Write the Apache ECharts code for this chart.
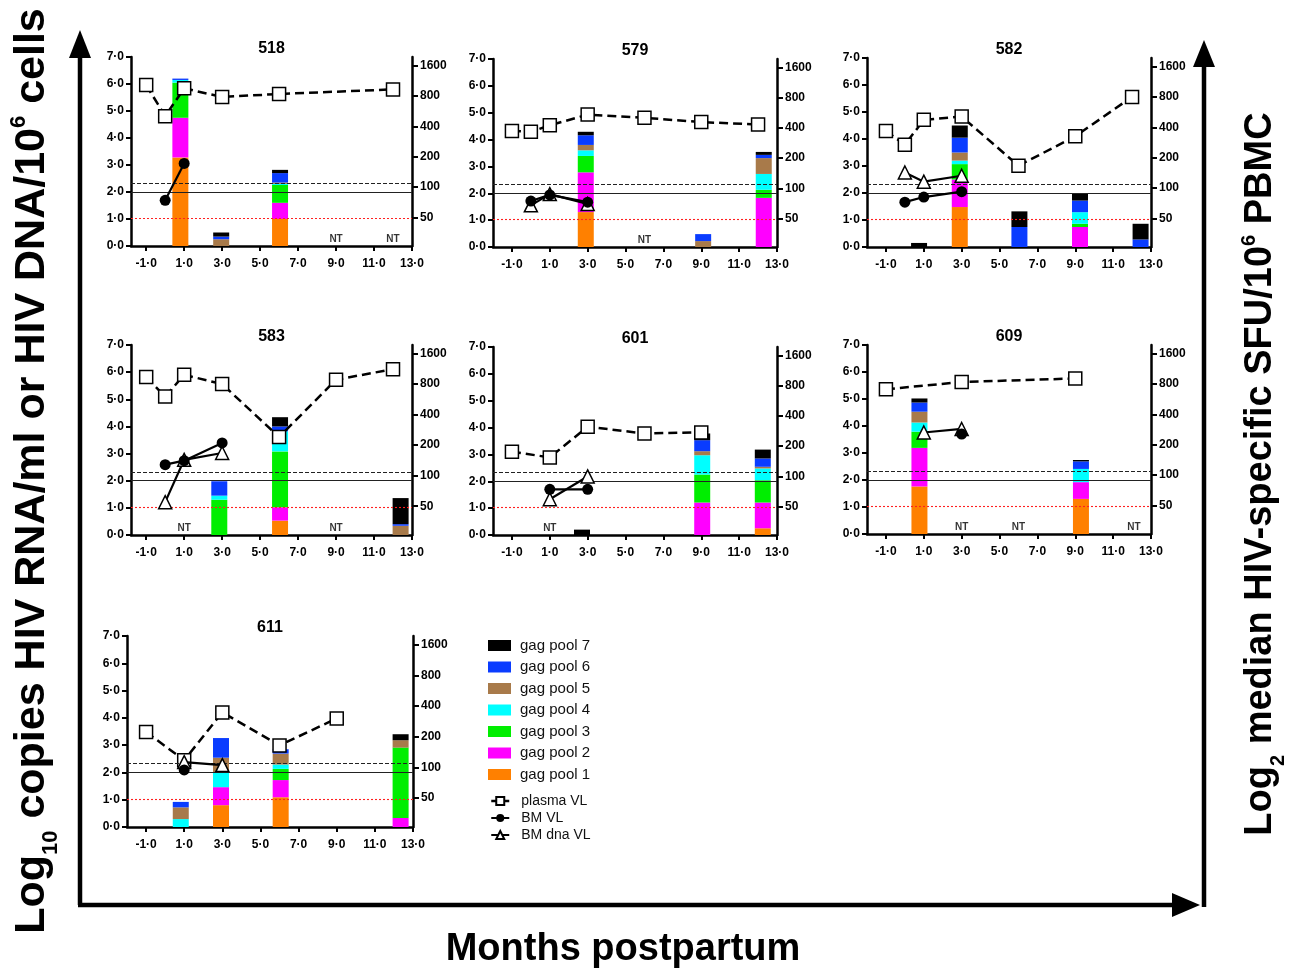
<!DOCTYPE html>
<html><head><meta charset="utf-8">
<script src="https://cdn.jsdelivr.net/npm/echarts@6/dist/echarts.min.js"></script>
<style>html,body{margin:0;padding:0;background:#fff}#c{width:1289px;height:968px}</style>
</head><body><div id="c"></div>
<script>
// ---------------- DATA ----------------
const panelIds = ['518','579','582','583','601','609','611'];
const poolNames = ['gag pool 1','gag pool 2','gag pool 3','gag pool 4','gag pool 5','gag pool 6','gag pool 7'];
const barMonths = [
  [0.8, 2.95, 6.05],
  [2.9, 9.1, 12.3],
  [0.75, 2.9, 6.05, 9.25, 12.45],
  [2.85, 6.05, 12.4],
  [2.7, 9.05, 12.25],
  [0.77, 9.3],
  [0.82, 2.93, 6.06, 12.35]
];
const gagPool1 = [[3.28,0,1.0],[1.30,0,0],[0,1.48,0,0,0],[0,0.53,0],[0,0,0.25],[1.76,1.3],[0,0.8,1.09,0]];
const gagPool2 = [[1.47,0,0.6],[1.48,0,1.83],[0,1.02,0,0.74,0],[0,0.49,0],[0,1.21,0.96],[1.43,0.62],[0,0.66,0.63,0.33]];
const gagPool3 = [[1.30,0,0.66],[0.61,0,0.3],[0,0.57,0,0.12,0],[1.3,2.06,0],[0,1.04,0.83],[0.6,0],[0,0,0.41,2.58]];
const gagPool4 = [[0.1,0,0.04],[0.21,0,0.59],[0,0.13,0,0.43,0],[0.15,0.74,0],[0,0.72,0.44],[0.34,0.49],[0.29,0.53,0.16,0]];
const gagPool5 = [[0,0.25,0.05],[0.2,0.22,0.59],[0,0.3,0,0,0],[0,0,0.34],[0,0.15,0.06],[0.4,0],[0.43,0.55,0.4,0.27]];
const gagPool6 = [[0.05,0.1,0.35],[0.36,0.26,0.12],[0,0.55,0.74,0.43,0.28],[0.53,0.18,0.06],[0,0.41,0.31],[0.34,0.28],[0.2,0.72,0.16,0]];
const gagPool7 = [[0,0.15,0.12],[0.13,0,0.11],[0.15,0.45,0.58,0.27,0.58],[0,0.34,0.96],[0.2,0.25,0.33],[0.15,0.05],[0,0,0,0.22]];
const plasmaVL = [
  [[-1,5.96],[0,4.81],[1,5.84],[3,5.52],[6,5.63],[12,5.8]],
  [[-1,4.32],[0,4.29],[1,4.53],[3,4.93],[6,4.81],[9,4.65],[12,4.56]],
  [[-1,4.3],[0,3.79],[1,4.71],[3,4.83],[6,3.01],[9,4.1],[12,5.56]],
  [[-1,5.82],[0,5.1],[1,5.9],[3,5.56],[6,3.61],[9,5.72],[12,6.11]],
  [[-1,3.1],[1,2.89],[3,4.03],[6,3.78],[9,3.82]],
  [[-1,5.36],[3,5.63],[9,5.76]],
  [[-1,3.48],[1,2.45],[3,4.2],[6,2.99],[9,3.98]]
];
const bmVL = [
  [[0,1.69],[1,3.06]],
  [[0,1.71],[1,1.94],[3,1.67]],
  [[0,1.66],[1,1.85],[3,2.05]],
  [[0,2.59],[1,2.74],[3,3.39]],
  [[1,1.7],[3,1.7]],
  [[3,3.7]],
  [[1,2.09]]
];
const bmDnaVL = [
  [],
  [[0,1.55],[1,1.97],[3,1.6]],
  [[0,2.76],[1,2.42],[3,2.64]],
  [[0,1.21],[1,2.77],[3,3.02]],
  [[1,1.33],[3,2.18]],
  [[1,3.76],[3,3.89]],
  [[1,2.38],[3,2.27]]
];
const ntMonths = [[9,12],[6],[],[1,9],[1],[3,6,12.1],[]];
const xMins = [-1.8,-2,-2,-1.8,-2,-2,-2];
const xTickValues = [-1,1,3,5,7,9,11,13];
const sfuTicks = [50,100,200,400,800,1600];
const refSolid = 2.0, refDashed = 2.33, refRed = 1.03;

// ---------------- LAYOUT / STYLE ----------------
const FONT = 'Arial, "Liberation Sans", Helvetica, sans-serif';
const poolColors = ['#ff8000','#ff00ff','#00ee00','#00ffff','#a87a4a','#0a3cff','#000000'];
const pools = [gagPool1,gagPool2,gagPool3,gagPool4,gagPool5,gagPool6,gagPool7];
const gridBoxes = [[131,57,281,189],[493,59,284,188],[867,58,284,189],[131,345,281,190],[493,347,284,188],[867,345,284,189],[127,636,286,191]];
// right axis: log2(SFU); 50 SFU sits at 1.06 on the left scale, 1.125 left-units per doubling
const R_MIN = Math.log2(50) - 1.06/1.125;
const R_MAX = R_MIN + 7/1.125;
const fmt = v => v.toFixed(1).replace('.', '\u00B7');

const option = {animation:false, backgroundColor:'#fff', grid:[], xAxis:[], yAxis:[], series:[], graphic:[]};

panelIds.forEach((id, i) => {
  const [l,t,w,h] = gridBoxes[i];
  option.grid.push({left:l, top:t, width:w, height:h, containLabel:false});
  option.xAxis.push({type:'value', gridIndex:i, min:xMins[i], max:13,
    axisLine:{show:true, onZero:false, lineStyle:{color:'#000', width:2.5}},
    axisTick:{show:true, customValues:xTickValues, length:5, lineStyle:{color:'#000', width:2}},
    axisLabel:{customValues:xTickValues, formatter:fmt, color:'#000', fontWeight:'bold', fontSize:12, margin:12, fontFamily:FONT},
    splitLine:{show:false}});
  option.yAxis.push({type:'value', gridIndex:i, min:0, max:7, interval:1, position:'left',
    axisLine:{show:true, onZero:false, lineStyle:{color:'#000', width:2.5}},
    axisTick:{show:true, length:5, lineStyle:{color:'#000', width:2}},
    axisLabel:{formatter:fmt, color:'#000', fontWeight:'bold', fontSize:12, margin:7, fontFamily:FONT},
    splitLine:{show:false}});
  option.yAxis.push({type:'value', gridIndex:i, min:R_MIN, max:R_MAX, position:'right',
    axisLine:{show:true, onZero:false, lineStyle:{color:'#000', width:2.5}},
    axisTick:{show:true, customValues:sfuTicks.map(Math.log2), length:6, lineStyle:{color:'#000', width:2}},
    axisLabel:{customValues:sfuTicks.map(Math.log2), formatter:v=>String(Math.round(Math.pow(2,v))), color:'#000', fontWeight:'bold', fontSize:12, margin:8, fontFamily:FONT},
    splitLine:{show:false}});

  pools.forEach((arr, k) => {
    // value first so that the stack is computed on the y dimension
    option.series.push({name:poolNames[k], type:'bar', xAxisIndex:i, yAxisIndex:2*i, stack:'s'+i, barWidth:16,
      itemStyle:{color:poolColors[k]}, z:2, encode:{x:1, y:0},
      data:barMonths[i].map((m,j)=>[arr[i][j], m])});
  });
  option.series.push({name:'ref'+i, type:'line', xAxisIndex:i, yAxisIndex:2*i, data:[], z:3,
    markLine:{silent:true, symbol:['none','none'], label:{show:false}, animation:false,
      data:[{yAxis:refSolid, lineStyle:{color:'#222', width:1.2, type:'solid'}},
            {yAxis:refDashed, lineStyle:{color:'#222', width:1.2, type:[4,2]}},
            {yAxis:refRed, lineStyle:{color:'#ff2020', width:1.1, type:[2,2]}}]}});
  option.series.push({name:'plasma VL', type:'line', xAxisIndex:i, yAxisIndex:2*i, z:4,
    data:plasmaVL[i], symbol:'rect', symbolSize:13,
    itemStyle:{color:'#fff', borderColor:'#000', borderWidth:1.5},
    lineStyle:{color:'#000', width:2.5, type:[9,5]}});
  option.series.push({name:'BM dna VL', type:'line', xAxisIndex:i, yAxisIndex:2*i, z:5,
    data:bmDnaVL[i], symbol:'triangle', symbolSize:13,
    itemStyle:{color:'#fff', borderColor:'#000', borderWidth:1.5}, lineStyle:{color:'#000', width:2.2}});
  option.series.push({name:'BM VL', type:'line', xAxisIndex:i, yAxisIndex:2*i, z:6,
    data:bmVL[i], symbol:'circle', symbolSize:11,
    itemStyle:{color:'#000'}, lineStyle:{color:'#000', width:2.2}});
  option.series.push({name:'NT'+i, type:'scatter', xAxisIndex:i, yAxisIndex:2*i, z:7,
    data:ntMonths[i].map(m=>[m,0]), symbolSize:1, itemStyle:{color:'rgba(0,0,0,0)'},
    label:{show:true, formatter:'NT', position:'top', distance:1, color:'#000', fontWeight:'bold', fontSize:10, fontFamily:FONT}});

  option.graphic.push({type:'text', x:l + w/2, y:t - 8, silent:true,
    style:{text:id, fill:'#000', font:'bold 16px '+FONT, align:'center', verticalAlign:'middle'}});
});

option.legend = [
  {orient:'vertical', left:483, top:633, itemWidth:23, itemHeight:11, itemGap:6.5, selectedMode:false,
   data:poolNames.slice().reverse().map(n=>({name:n, icon:'rect'})),
   textStyle:{fontSize:15, lineHeight:15, color:'#111', fontFamily:FONT, padding:[0,0,0,4]}},
  {orient:'vertical', left:485, top:789, itemWidth:18, itemHeight:10, itemGap:3, selectedMode:false,
   data:[{name:'plasma VL', lineStyle:{type:'solid', width:2.5}}, {name:'BM VL'}, {name:'BM dna VL'}],
   textStyle:{fontSize:14, lineHeight:14, color:'#111', fontFamily:FONT, padding:[0,0,0,7]}}
];

// big axis titles and arrows
option.graphic.push(
  {type:'text', x:32, y:471, rotation:Math.PI/2, silent:true,
   style:{text:'{a|Log}{b|10}{a| copies HIV RNA/ml or HIV DNA/10}{c|6}{a| cells}', align:'center', verticalAlign:'middle',
     rich:{a:{font:'bold 43px '+FONT, fill:'#000', lineHeight:60},
           b:{font:'bold 22px '+FONT, fill:'#000', lineHeight:22, verticalAlign:'bottom'},
           c:{font:'bold 22px '+FONT, fill:'#000', lineHeight:22, verticalAlign:'top', padding:[6,0,0,0]}}}},
  {type:'text', x:1261, y:474, rotation:Math.PI/2, silent:true,
   style:{text:'{a|Log}{b|2}{a| median HIV-specific SFU/10}{c|6}{a| PBMC}', align:'center', verticalAlign:'middle',
     rich:{a:{font:'bold 38px '+FONT, fill:'#000', lineHeight:54},
           b:{font:'bold 20px '+FONT, fill:'#000', lineHeight:20, verticalAlign:'bottom'},
           c:{font:'bold 20px '+FONT, fill:'#000', lineHeight:20, verticalAlign:'top', padding:[5,0,0,0]}}}},
  {type:'text', x:623, y:950, silent:true,
   style:{text:'Months postpartum', font:'bold 38px '+FONT, fill:'#000', align:'center', verticalAlign:'middle'}},
  {type:'line', silent:true, shape:{x1:80, y1:905, x2:80, y2:56}, style:{stroke:'#000', lineWidth:4.5}},
  {type:'polygon', silent:true, shape:{points:[[80,30],[69,58],[91,58]]}, style:{fill:'#000'}},
  {type:'line', silent:true, shape:{x1:78, y1:905, x2:1174, y2:905}, style:{stroke:'#000', lineWidth:4.5}},
  {type:'polygon', silent:true, shape:{points:[[1200,905],[1172,893],[1172,917]]}, style:{fill:'#000'}},
  {type:'line', silent:true, shape:{x1:1204, y1:907, x2:1204, y2:64}, style:{stroke:'#000', lineWidth:4.5}},
  {type:'polygon', silent:true, shape:{points:[[1204,40],[1193,67],[1215,67]]}, style:{fill:'#000'}}
);

const chart = echarts.init(document.getElementById('c'), null, {renderer:'canvas'});
chart.setOption(option);
</script></body></html>
